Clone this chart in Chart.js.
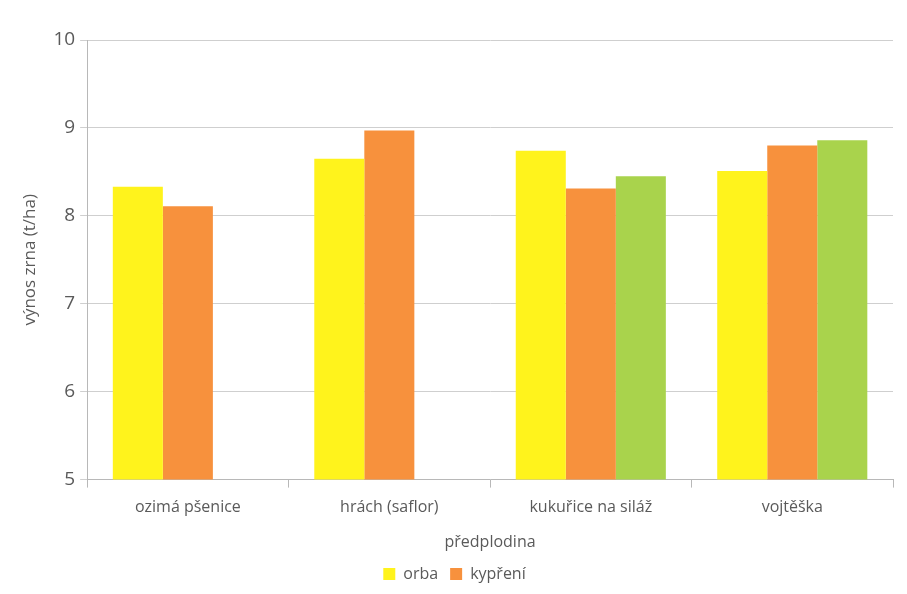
<!DOCTYPE html>
<html>
<head>
<meta charset="utf-8">
<script src="https://cdn.jsdelivr.net/npm/chart.js@4/dist/chart.umd.min.js"></script>
<style>
    html, body { margin: 0; padding: 0; background: #fff; }
    #wrap { width: 907px; height: 594px; }
</style>
</head>
<body>
<div id="wrap"><canvas id="yieldChart" width="907" height="594"></canvas></div>
<script>
// categories (previous crop) and yields in t/ha
const categories = ["ozimá pšenice", "hrách (saflor)", "kukuřice na siláž", "vojtěška"];
const orba = [8.33, 8.65, 8.74, 8.51];
const kypreni = [8.11, 8.97, 8.31, 8.80];
const third = [null, null, 8.45, 8.86];
const yTicks = [5, 6, 7, 8, 9, 10];

const font = (size) => ({ family: "'Open Sans', sans-serif", size: size });
const textColor = "#5a5a5a";

const ctx = document.getElementById("yieldChart").getContext("2d");

new Chart(ctx, {
    type: "bar",
    data: {
        labels: categories,
        datasets: [
            { label: "orba", data: orba, backgroundColor: "#fff31c" },
            { label: "kypření", data: kypreni, backgroundColor: "#f7913d" },
            { label: "", data: third, backgroundColor: "#a9d34c" },
        ],
    },
    options: {
        responsive: false,
        animation: false,
        layout: { padding: { left: 16, right: 14, top: 40, bottom: 2 } },
        datasets: {
            bar: { categoryPercentage: 0.745, barPercentage: 1.0, borderWidth: 0 },
        },
        scales: {
            x: {
                grid: {
                    display: true,
                    drawOnChartArea: false,
                    tickLength: 8,
                    color: "#b8b8b8",
                },
                border: { color: "#b8b8b8" },
                ticks: { color: textColor, font: font(16), padding: 10 },
                title: {
                    display: true,
                    text: "předplodina",
                    color: textColor,
                    font: font(16),
                    padding: { top: 6, bottom: 2 },
                },
            },
            y: {
                min: 5,
                max: 10,
                afterBuildTicks: (axis) => {
                    axis.ticks = yTicks.map((v) => ({ value: v }));
                },
                grid: { color: "#cfcfcf", tickLength: 7 },
                border: { color: "#b8b8b8" },
                ticks: { color: textColor, font: font(19), padding: 5 },
                title: {
                    display: true,
                    text: "výnos zrna (t/ha)",
                    color: textColor,
                    font: font(17),
                    padding: { bottom: 8 },
                },
            },
        },
        plugins: {
            legend: {
                position: "bottom",
                labels: {
                    color: textColor,
                    font: font(16),
                    boxWidth: 12,
                    boxHeight: 12,
                    padding: 12,
                    filter: (item) => item.text !== "",
                },
            },
            tooltip: { enabled: false },
        },
    },
});
</script>
</body>
</html>
